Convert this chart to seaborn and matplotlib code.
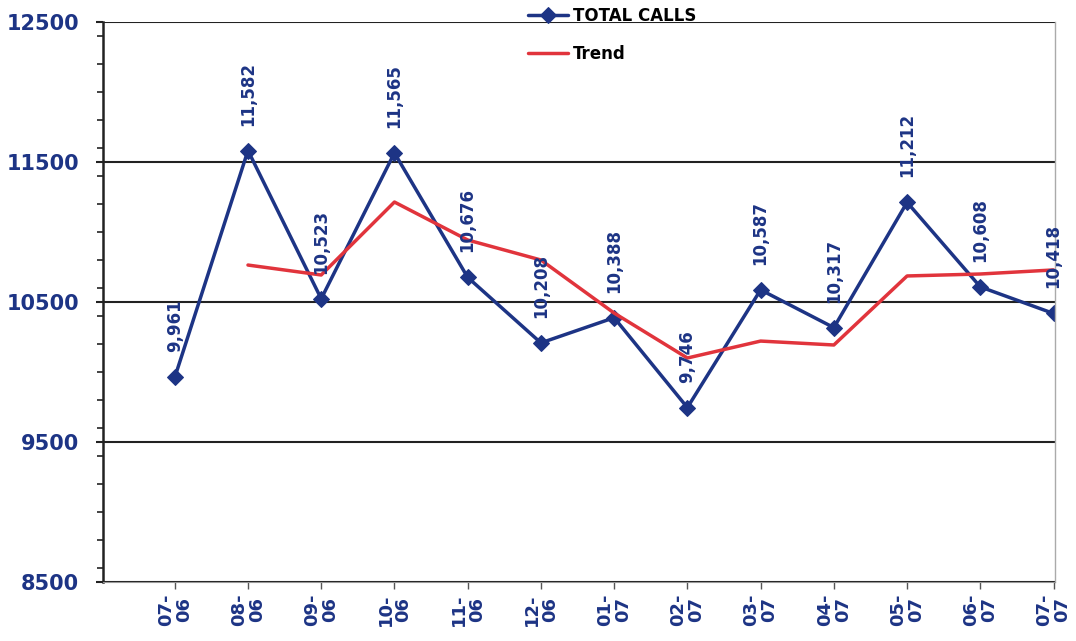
import numpy as np
import pandas as pd
import seaborn as sns
import matplotlib.pyplot as plt
from matplotlib.ticker import MultipleLocator

# monthly values
months = ["07-\n06", "08-\n06", "09-\n06", "10-\n06", "11-\n06", "12-\n06", "01-\n07",
          "02-\n07", "03-\n07", "04-\n07", "05-\n07", "06-\n07", "07-\n07"]
total_calls = [9961, 11582, 10523, 11565, 10676, 10208, 10388, 9746, 10587, 10317, 11212, 10608, 10418]
call_labels = ["9,961", "11,582", "10,523", "11,565", "10,676", "10,208", "10,388",
               "9,746", "10,587", "10,317", "11,212", "10,608", "10,418"]
trend = [np.nan, 10764, 10693, 11214, 10943, 10800, 10421, 10100, 10221, 10193, 10686, 10700, 10729]

navy = "#1d3485"
red = "#e1343c"

sns.set_style("white")
plt.rcParams['font.family'] = ['DejaVu Sans']

df = pd.DataFrame({"x": np.arange(len(months)), "calls": total_calls, "trend": trend})

fig = plt.figure(figsize=(10.76, 6.41), dpi=100)
ax = fig.add_axes([0.0957, 0.092, 0.8848, 0.8737])

sns.lineplot(data=df, x="x", y="calls", ax=ax, color=navy, lw=2.5, marker="D",
             markersize=8, markeredgecolor=navy, label="TOTAL CALLS")
sns.lineplot(data=df.dropna(), x="x", y="trend", ax=ax, color=red, lw=2.5, label="Trend")

for i, (v, s) in enumerate(zip(total_calls, call_labels)):
    ax.annotate(s, (i, v), xytext=(0, 18), textcoords="offset points", rotation=90,
                ha="center", va="bottom", color=navy, fontsize=12, fontweight="bold")

ax.set_ylim(8500, 12500)
ax.set_xlim(-0.98, 12.02)
ax.yaxis.set_minor_locator(MultipleLocator(200))
ax.set_yticks([8500, 9500, 10500, 11500, 12500])
ax.grid(axis="y", color="#222222", lw=1.5)
ax.set_xticks(df["x"])
ax.set_xticklabels(months, rotation=90, fontsize=13, fontweight="bold", color=navy,
                   linespacing=1.0)
for lab in ax.get_yticklabels():
    lab.set_fontsize(15)
    lab.set_fontweight("bold")
    lab.set_color(navy)
ax.tick_params(axis="y", which="major", left=True, length=5, width=1.5, color="#222222", pad=12)
ax.tick_params(axis="y", which="minor", left=True, length=4, width=1.2, color="#222222")
ax.tick_params(axis="x", bottom=True, length=5, width=1, color="#555555", pad=3)

ax.set_xlabel("")
ax.set_ylabel("")
ax.spines["left"].set_color("#222222")
ax.spines["left"].set_linewidth(1.8)
ax.spines["bottom"].set_color("#999999")
ax.spines["right"].set_color("#aaaaaa")
ax.spines["right"].set_linewidth(1)
ax.spines["top"].set_visible(False)

leg = ax.legend(loc="upper left", bbox_to_anchor=(0.477, 1.012), bbox_transform=fig.transFigure,
                frameon=False, labelspacing=1.2, handlelength=2.4, handletextpad=0.3,
                labelcolor="black", prop={"weight": "bold", "size": 12})

fig.savefig("out.png", dpi=100)
